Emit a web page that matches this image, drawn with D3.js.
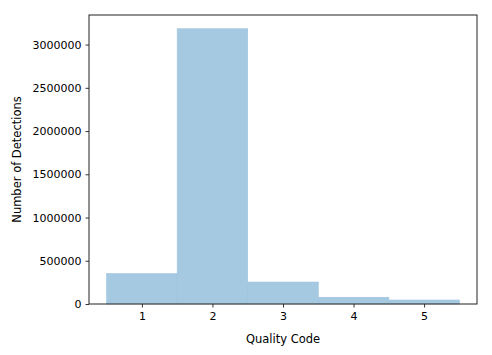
<!DOCTYPE html>
<html><head><meta charset="utf-8">
<script src="https://cdn.jsdelivr.net/npm/d3@7/dist/d3.min.js"></script>
<style>body{margin:0;background:#fff}svg{display:block}text{font-family:"DejaVu Sans",sans-serif}</style>
</head><body>
<svg id="c" width="492" height="355"></svg>
<script>
const categories = [1, 2, 3, 4, 5];
const counts = [351000, 3183000, 254000, 78000, 46000];
const yTicks = [0, 500000, 1000000, 1500000, 2000000, 2500000, 3000000];
const xLabel = "Quality Code";
const yLabel = "Number of Detections";

const svg = d3.select("#c");
const m = {l: 89, r: 477, t: 15, b: 304};
const x = d3.scaleLinear().domain([0.25, 5.75]).range([m.l, m.r]);
const y = d3.scaleLinear().domain([0, d3.max(counts) * 1.05]).range([m.b, m.t]);

svg.append("g").selectAll("rect").data(categories).join("rect")
  .attr("x", d => x(d - 0.5))
  .attr("width", d => x(d + 0.5) - x(d - 0.5))
  .attr("y", (d, i) => y(counts[i]))
  .attr("height", (d, i) => y(0) - y(counts[i]))
  .attr("fill", "#a5c9e1")
  .attr("stroke", "#9dc3de")
  .attr("stroke-width", 0.6);

const xa = svg.append("g").attr("transform", `translate(0,${m.b})`)
  .call(d3.axisBottom(x).tickValues(categories).tickSize(3.5).tickPadding(5).tickFormat(d3.format("d")));
const ya = svg.append("g").attr("transform", `translate(${m.l},0)`)
  .call(d3.axisLeft(y).tickValues(yTicks).tickSize(3.5).tickPadding(4).tickFormat(d3.format("d")));
[xa, ya].forEach(a => {
  a.select(".domain").remove();
  a.selectAll("text").attr("font-size", 11).attr("fill", "#000").attr("font-family", "DejaVu Sans");
  a.selectAll("line").attr("stroke", "#000").attr("stroke-width", 0.8);
});

svg.append("rect").attr("x", m.l).attr("y", m.t).attr("width", m.r - m.l).attr("height", m.b - m.t)
  .attr("fill", "none").attr("stroke", "#222").attr("stroke-width", 1);

svg.append("text").attr("x", (m.l + m.r) / 2).attr("y", 343).attr("text-anchor", "middle")
  .attr("font-size", 11.5).text(xLabel);
svg.append("text").attr("transform", `translate(21,${(m.t + m.b) / 2}) rotate(-90)`)
  .attr("text-anchor", "middle").attr("font-size", 11.5).text(yLabel);
</script>
</body></html>
